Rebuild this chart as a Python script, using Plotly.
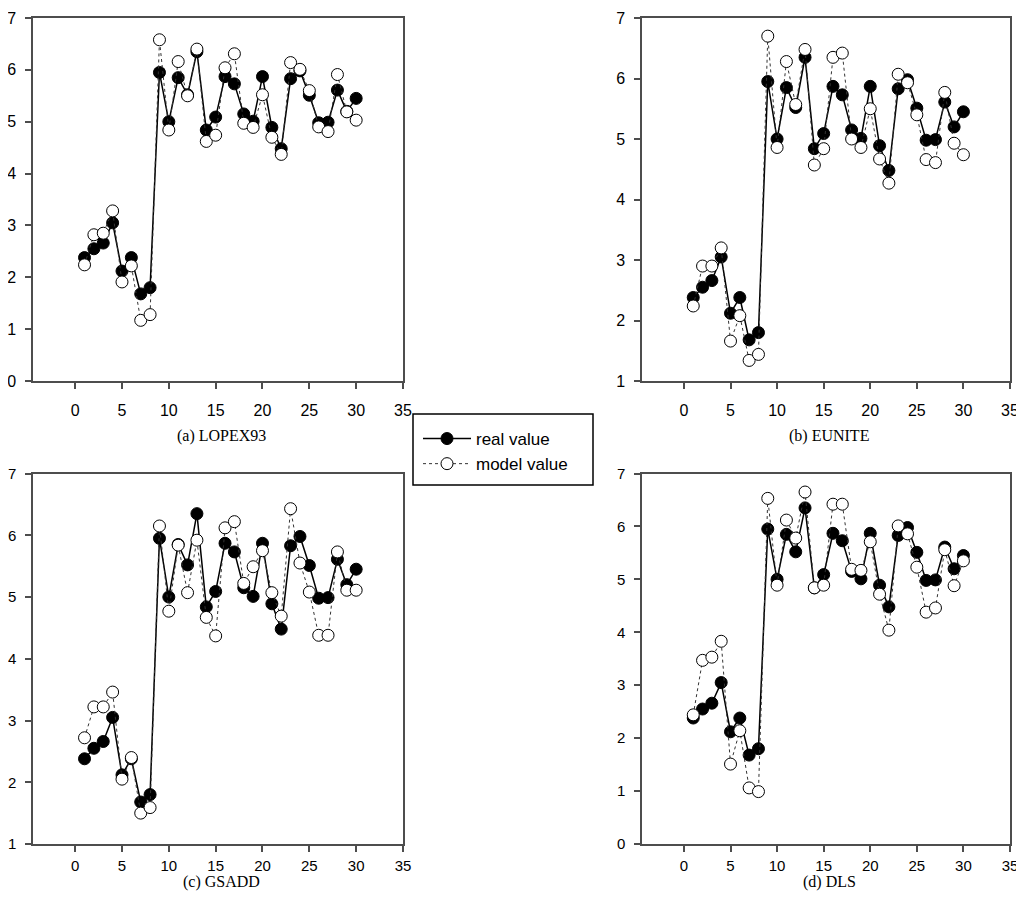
import plotly.graph_objects as go

# S: Data ###################################################

sample = list(range(1, 31))

realValue = [2.38, 2.55, 2.66, 3.05, 2.12, 2.38, 1.68, 1.80, 5.95, 5.00,
             5.85, 5.52, 6.35, 4.84, 5.09, 5.87, 5.73, 5.15, 5.01, 5.87,
             4.89, 4.48, 5.83, 5.98, 5.51, 4.98, 4.99, 5.61, 5.20, 5.45]

modelLopex = [2.24, 2.82, 2.85, 3.28, 1.91, 2.22, 1.17, 1.28, 6.58, 4.84,
              6.16, 5.50, 6.40, 4.62, 4.74, 6.04, 6.31, 4.97, 4.89, 5.52,
              4.70, 4.37, 6.14, 6.01, 5.60, 4.90, 4.81, 5.91, 5.19, 5.03]

modelEunite = [2.24, 2.90, 2.90, 3.20, 1.66, 2.08, 1.34, 1.44, 6.70, 4.86,
               6.28, 5.57, 6.48, 4.57, 4.84, 6.35, 6.42, 5.00, 4.86, 5.50,
               4.67, 4.27, 6.07, 5.93, 5.40, 4.66, 4.61, 5.77, 4.93, 4.74]

modelGsadd = [2.72, 3.22, 3.22, 3.46, 2.05, 2.40, 1.50, 1.59, 6.15, 4.77,
              5.84, 5.07, 5.92, 4.67, 4.37, 6.12, 6.22, 5.22, 5.49, 5.75,
              5.07, 4.69, 6.43, 5.55, 5.08, 4.38, 4.38, 5.73, 5.11, 5.11]

modelDls = [2.44, 3.47, 3.53, 3.83, 1.51, 2.14, 1.06, 0.99, 6.53, 4.89,
            6.12, 5.78, 6.65, 4.84, 4.89, 6.42, 6.42, 5.19, 5.17, 5.71,
            4.72, 4.04, 6.01, 5.86, 5.23, 4.38, 4.46, 5.56, 4.88, 5.35]

captions = ['(a) LOPEX93', '(b) EUNITE', '(c) GSADD', '(d) DLS']
yRanges = [(0, 7), (1, 7), (1, 7), (0, 7)]
xTicks = [0, 5, 10, 15, 20, 25, 30, 35]

# S: Layout #################################################

# the page body has an 8px margin, so the figure is drawn 8px in
OFF = 8
W, H = 1024 - OFF, 913 - 2 * OFF

def px(x):
  return (x - OFF) / W

def py(y):
  return 1 - (y - OFF) / H

xDom = [(px(33), px(403)), (px(642), px(1010))]
yDom = [(py(381), py(18)), (py(844), py(473.5))]
AXIS = '#4d4d4d'

panels = [
  (modelLopex, 0, 0),
  (modelEunite, 1, 0),
  (modelGsadd, 0, 1),
  (modelDls, 1, 1),
]

fig = go.Figure()

for i, (model, col, row) in enumerate(panels):
  n = '' if i == 0 else str(i + 1)
  fig.add_trace(go.Scatter(
    x = sample, y = realValue,
    xaxis = 'x' + n, yaxis = 'y' + n,
    mode = 'lines+markers',
    name = 'real value',
    showlegend = i == 0,
    line = dict(color = 'black', width = 1.5),
    marker = dict(size = 12, color = 'black', line = dict(color = 'black', width = 1)),
  ))
  fig.add_trace(go.Scatter(
    x = sample, y = model,
    xaxis = 'x' + n, yaxis = 'y' + n,
    mode = 'lines+markers',
    name = 'model value',
    showlegend = i == 0,
    line = dict(color = '#333333', width = 1, dash = 'dot'),
    marker = dict(size = 12, color = 'white', line = dict(color = 'black', width = 1)),
  ))

  lo, hi = yRanges[i]
  tickSize = 16 if row == 0 else 15
  fig.update_layout({
    'xaxis' + n: dict(
      domain = xDom[col], anchor = 'y' + n, automargin = False,
      range = [-4.5, 35], tickvals = xTicks,
      showgrid = False, zeroline = False,
      showline = True, linecolor = AXIS, linewidth = 1.5, mirror = True,
      ticks = 'outside', ticklen = 6, tickcolor = AXIS, tickwidth = 1.5,
      ticklabelstandoff = 8 if row == 0 else 1, ticklabeloverflow = 'allow',
      tickfont = dict(family = 'Liberation Sans, Arial', size = tickSize, color = 'black'),
    ),
    'yaxis' + n: dict(
      domain = yDom[row], anchor = 'x' + n, automargin = False,
      range = [lo, hi], dtick = 1,
      showgrid = False, zeroline = False,
      showline = True, linecolor = AXIS, linewidth = 1.5, mirror = True,
      ticks = 'outside', ticklen = 6, tickcolor = AXIS, tickwidth = 1.5,
      ticklabelstandoff = 6, ticklabeloverflow = 'allow',
      tickfont = dict(family = 'Liberation Sans, Arial', size = tickSize, color = 'black'),
    ),
  })

  fig.add_annotation(
    text = captions[i], xref = 'paper', yref = 'paper',
    x = (xDom[col][0] + xDom[col][1]) / 2 + 3 / W,
    y = py(436 if row == 0 else 882),
    showarrow = False, xanchor = 'center', yanchor = 'middle',
    font = dict(family = 'Liberation Serif, Times New Roman', size = 16, color = 'black'),
  )

# legend frame
fig.add_shape(
  type = 'rect', xref = 'paper', yref = 'paper',
  x0 = px(413), x1 = px(593), y0 = py(485), y1 = py(414),
  line = dict(color = 'black', width = 1.5), fillcolor = 'white', layer = 'below',
)

fig.update_layout(
  width = W, height = H, autosize = False,
  margin = dict(l = 0, r = 0, t = 0, b = 0, autoexpand = False),
  plot_bgcolor = 'white', paper_bgcolor = 'white',
  showlegend = True,
  legend = dict(
    x = px(418), y = py(421), xanchor = 'left', yanchor = 'top',
    borderwidth = 0, bgcolor = 'rgba(0,0,0,0)',
    font = dict(family = 'Liberation Sans, Arial', size = 17, color = 'black'),
    tracegroupgap = 0, itemwidth = 48,
  ),
)

fig.write_html('out.html')
